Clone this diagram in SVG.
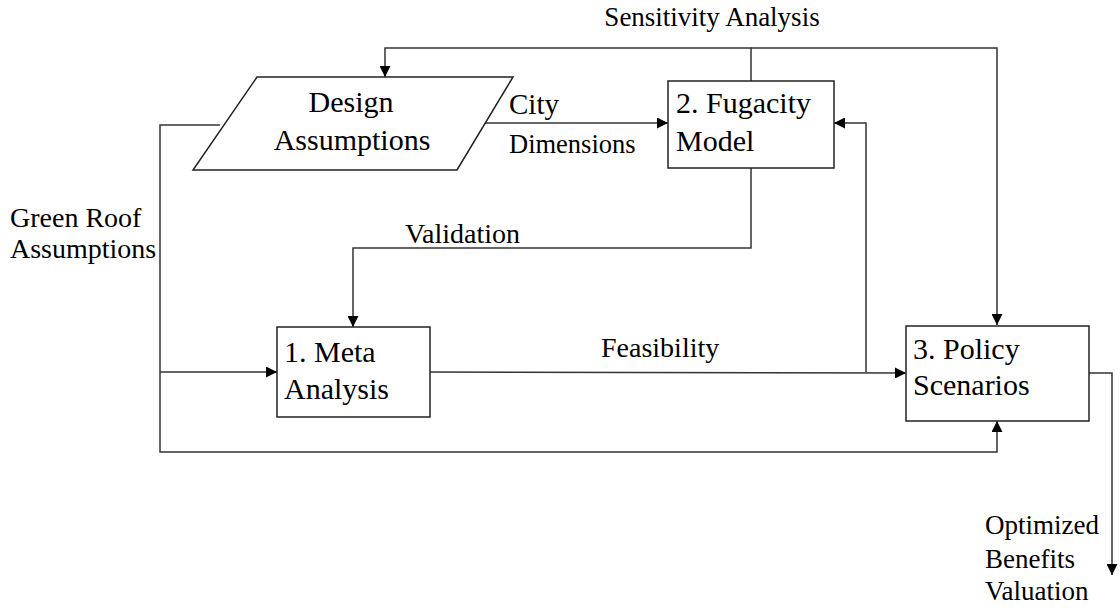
<svg xmlns="http://www.w3.org/2000/svg" width="1120" height="611" viewBox="0 0 1120 611">
<defs>
<marker id="ah" viewBox="0 0 10 10" refX="10" refY="5" markerWidth="11" markerHeight="11" markerUnits="userSpaceOnUse" orient="auto"><path d="M0,0 L10,5 L0,10 Z" fill="#000"/></marker>
<style>
.n{fill:#fff;stroke:#222;stroke-width:1.5}
.c{fill:none;stroke:#333;stroke-width:1.5}
.t{font-family:"Liberation Serif",serif;fill:#000}
.b{font-size:30px}
.s{font-size:28px}
</style>
</defs>
<rect width="1120" height="611" fill="#fff"/>
<g id="connectors">
<polyline class="c" points="751,81 751,48 385,48 385,77" marker-end="url(#ah)"/>
<polyline class="c" points="751,48 997,48 997,325" marker-end="url(#ah)"/>
<line class="c" x1="480" y1="123" x2="668" y2="123" marker-end="url(#ah)"/>
<polyline class="c" points="751,168 751,248 353,248 353,327" marker-end="url(#ah)"/>
<polyline class="c" points="220,125 160,125 160,452 997,452 997,421" marker-end="url(#ah)"/>
<line class="c" x1="160" y1="372" x2="277" y2="372" marker-end="url(#ah)"/>
<line class="c" x1="430" y1="372" x2="906" y2="373" marker-end="url(#ah)"/>
<polyline class="c" points="866,372 866,123 834,123" marker-end="url(#ah)"/>
<polyline class="c" points="1089,373 1112,373 1112,575" marker-end="url(#ah)"/>
</g>
<g id="design-assumptions">
<polygon class="n" points="257,77 513,77 457,170 193,170"/>
<text class="t b" x="351" y="112" text-anchor="middle">Design</text>
<text class="t b" x="352" y="150" text-anchor="middle">Assumptions</text>
</g>
<g id="fugacity-model">
<rect class="n" x="668" y="81" width="166" height="87"/>
<text class="t b" x="676" y="113">2. Fugacity</text>
<text class="t b" x="676" y="151">Model</text>
</g>
<g id="meta-analysis">
<rect class="n" x="277" y="327" width="153" height="90"/>
<text class="t b" x="284" y="362">1. Meta</text>
<text class="t b" x="284" y="399">Analysis</text>
</g>
<g id="policy-scenarios">
<rect class="n" x="906" y="326" width="183" height="95"/>
<text class="t b" x="913" y="359">3. Policy</text>
<text class="t b" x="913" y="395">Scenarios</text>
</g>
<g id="labels">
<text class="t" x="712" y="26" font-size="27" text-anchor="middle">Sensitivity Analysis</text>
<text class="t" x="509" y="114" font-size="29">City</text>
<text class="t" x="509" y="153" font-size="26.5">Dimensions</text>
<text class="t s" x="10" y="227">Green Roof</text>
<text class="t s" x="10" y="258">Assumptions</text>
<text class="t s" x="405" y="243">Validation</text>
<text class="t s" x="601" y="357">Feasibility</text>
<text class="t" x="985" y="534" font-size="27">Optimized</text>
<text class="t" x="985" y="568" font-size="27">Benefits</text>
<text class="t" x="985" y="600" font-size="27">Valuation</text>
</g>
</svg>
